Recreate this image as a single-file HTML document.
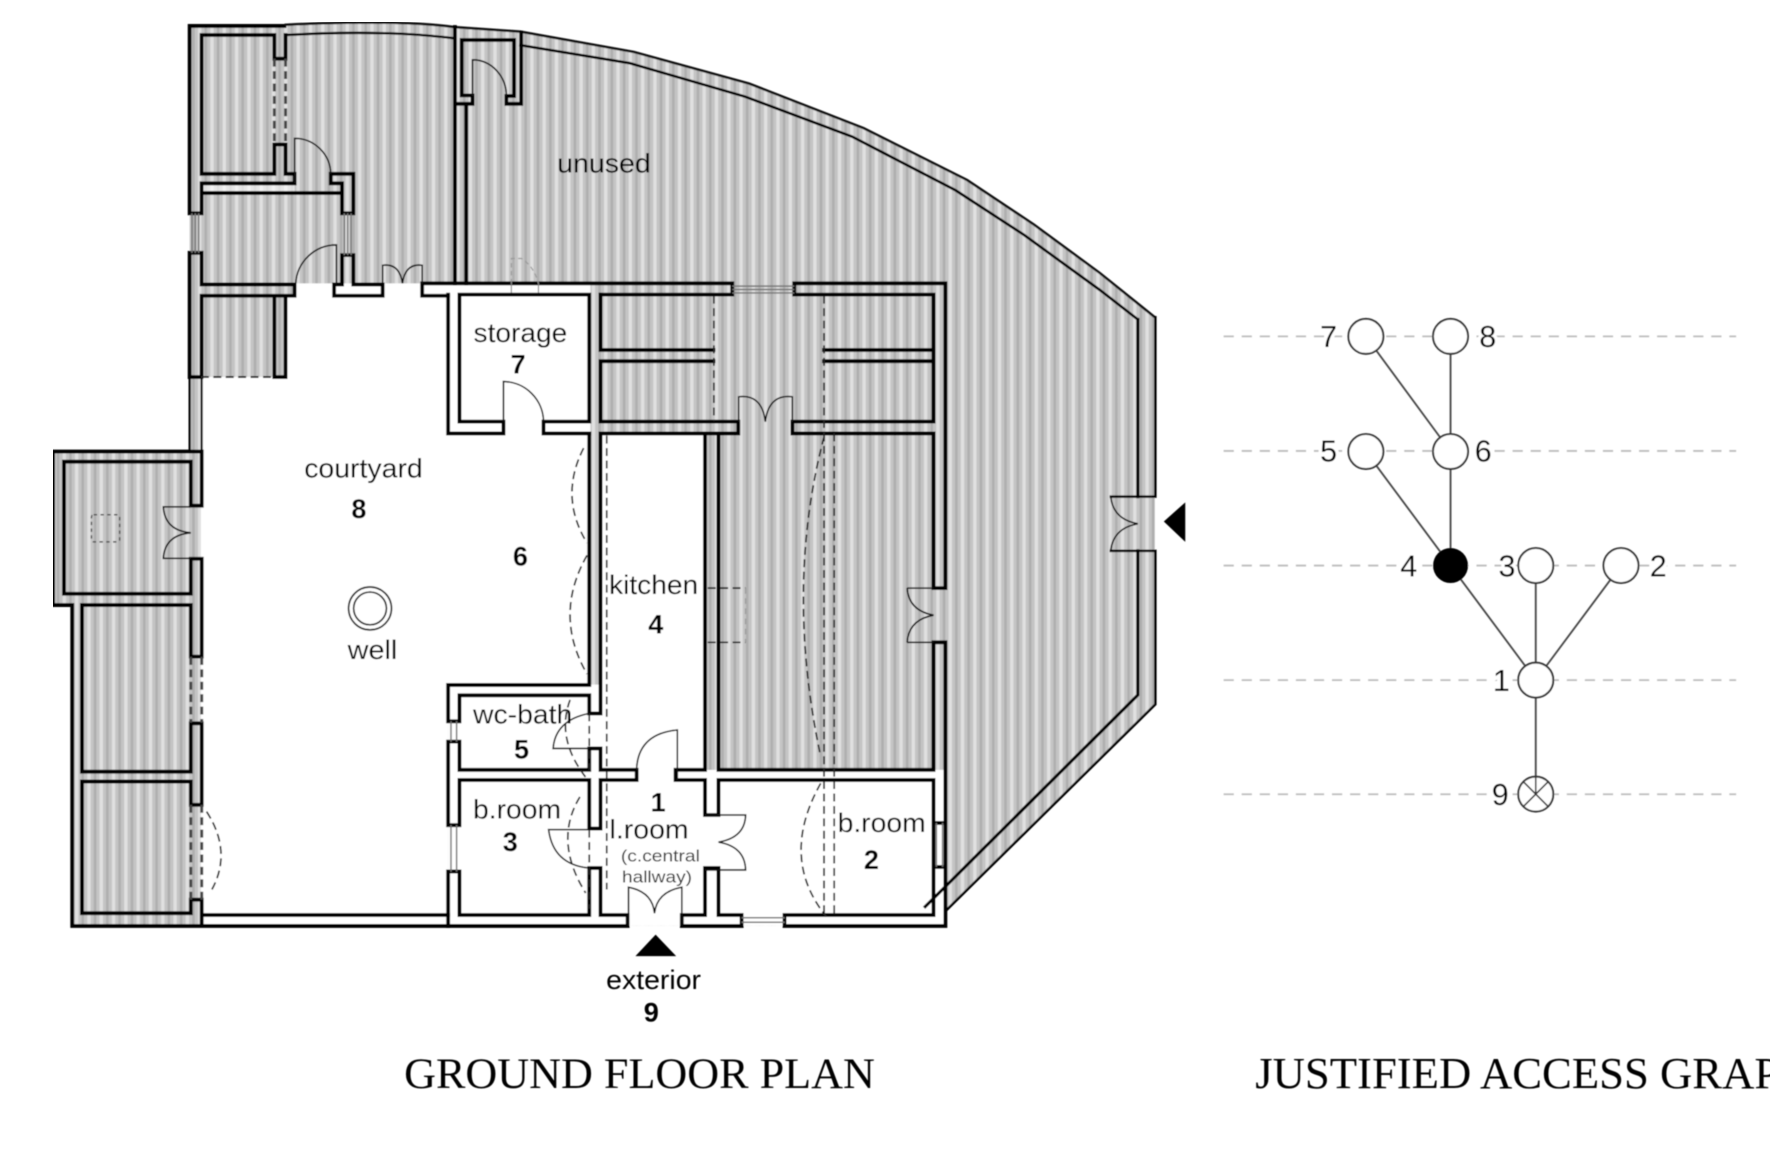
<!DOCTYPE html>
<html><head><meta charset="utf-8"><title>Ground floor plan</title>
<style>
html,body{margin:0;padding:0;background:#fff;width:1770px;height:1162px;overflow:hidden}
svg{display:block}
.w{fill:none;stroke:#000;stroke-width:3.4;stroke-linecap:square}
.t{fill:none;stroke:#111;stroke-width:1.4}
.d{fill:none;stroke:#222;stroke-width:1.5;stroke-dasharray:7 4}
.dw{fill:none;stroke:#444;stroke-width:2.6;stroke-dasharray:7 4}
.win{fill:none;stroke:#777;stroke-width:1.3}
text{font-family:"Liberation Sans",sans-serif;fill:#000}
.l{font-size:24px;text-anchor:middle}
.b{font-size:24px;font-weight:bold;text-anchor:middle}
.g{font-size:27px;text-anchor:middle;stroke:#fff;stroke-width:6px;paint-order:stroke}
.s{font-family:"Liberation Serif",serif;font-size:38px;fill:#000}
</style></head><body>
<svg xmlns="http://www.w3.org/2000/svg" width="1770" height="1162" viewBox="0 0 1568 1029.4">
<defs>
<pattern id="h" patternUnits="userSpaceOnUse" width="10.9" height="20">
<rect width="10.9" height="20" fill="#c4c4c4"/>
<rect x="1" width="3" height="20" fill="#e0e0e0"/>
<rect x="6.8" width="2.2" height="20" fill="#aeaeae"/>
</pattern>
<filter id="bl" x="0" y="0" width="100%" height="100%"><feGaussianBlur stdDeviation="0.45"/></filter>
</defs>
<rect width="1568" height="1030" fill="#fff"/>
<g filter="url(#bl)">
<!-- hatched building -->
<path fill="url(#h)" d="M168,23 L252,22 Q350,17 403,24 L461,28 L561.5,46 L663.6,74 L765,113.5 L856.8,159.5 L916,199 L974.5,242 L1023,281 L1023,624 L838,807 L838,820 L64,820 L64,536 L47,536 L47,400 L168,400 Z"/>
<!-- white spaces -->
<path fill="#fff" d="M261,251 L400,251 L400,384 L522,384 L522,606.5 L397,606.5 L397,811 L178,811 L178,334 L253,334 L253,262 L261,262 Z"/>
<path fill="#fff" d="M178,811 H400 V820 H178 Z"/>
<path fill="#fff" d="M374,251 H523 V384 H397 V262 H374 Z"/>
<path fill="#fff" d="M397,606.5 H532 V384 H624.6 V682 H838 V820 H397 Z"/>
<path fill="#fff" d="M296,252 H339 V262 H296 Z"/>
<path fill="#fff" d="M178.6,164 H261 V171 H178.6 Z" opacity=".6"/>

<!-- walls : upper-left block -->
<path class="w" d="M178.6,154 V31 H243 V52 H253 V31 M168,189 V23 H252
M243,128 H253 V154 H261 V162.4 H178.6 M243,128 V154 H178.6
M178.6,171 H303 M178.6,162.4 V189 H168
M293,162.4 V154 H313 V189 H303 V162.4 H293
M168,224 H178.6 V252 H261 V262 H178.6 V334 H168 V224
M243,262 V334 H253 V262
M303,226 H313 V252 H339 V262 H296 V252 H303 V226
M374,251 V262 H397 M374,251 H648.7 V261 H532"/>
<path class="w" style="stroke-width:2" d="M168,334 V400 M178.6,334 V400"/>
<path class="dw" d="M243,52 V128 M253,52 V128"/>
<path class="d" style="stroke-width:1.8" d="M178,334 H243"/>
<path class="t" d="M261,162 V122.6 A32,32 0 0 1 293,154"/>
<path class="t" d="M298,252 V217 A36,36 0 0 0 262,251"/>
<path class="t" d="M339,251 V235 Q354,233 356.5,251 Q359,233 374,235 V251"/>
<path class="win" d="M170,189 V224 M173,189 V224 M176,189 V224 M305,189 V226 M308,189 V226 M311,189 V226"/>

<!-- top curves -->
<path class="t" style="stroke-width:2.2" d="M252,22 Q350,17 403,24 L461,28 L561.5,46 L663.6,74 L765,113.5 L856.8,159.5 L916,199 L974.5,242 L1023,281"/>
<path class="w" style="stroke-width:2.2" d="M253,31 Q340,26 403,34"/>
<path class="w" style="stroke-width:2.4" d="M461,40 L558,56 L660,85.6 L754.8,121 L846.4,168.5 L907,208 L974.5,257 L1008,283"/>

<!-- central wall + closet -->
<path class="w" d="M403,24 V251 M413,92 V251 M403,92 H418.6 V84.5 H409 V35.4 H455.4 V85 H448.6 V92 H461.7 V29"/>
<path class="t" d="M418.6,85 V53 A30,32 0 0 1 448.6,85"/>
<path d="M453,251 V229 H462 Q473,236 477,251" fill="none" stroke="#999" stroke-width="1" stroke-dasharray="4 3"/>
<path d="M453,251 V261 M477,251 V261" fill="none" stroke="#888" stroke-width="1"/>

<!-- annex left -->
<path class="w" d="M178.7,400 H47 V536 H64 V820.3 H397 M56.7,409 H169 V448 H178.7 V400
M56.7,409 V526 H169 V495 H178.7 V581.7 H169 V536 H72.6 V683.6 H169 V640.8 H178.7 V713 H169 V692.4 H72.6 V809 H169 V797 H178.7 V820
M178.7,810.6 H397"/>
<path class="dw" d="M169,582 V640 M178.7,582 V640 M169,713 V797 M178.7,713 V797"/>
<path class="d" d="M183,719 Q207,756 186,791"/>
<rect x="81" y="456" width="25" height="24" fill="none" stroke="#555" stroke-width="1.3" stroke-dasharray="3 3" rx="2"/>
<path class="t" d="M169,449 H144.7 Q146,470 169,472 Q146,474 144.7,494.6 H169"/>
<circle cx="327.8" cy="539" r="19" fill="#fff" stroke="#222" stroke-width="1.5"/>
<circle cx="327.8" cy="539" r="14.5" fill="#fff" stroke="#222" stroke-width="1.5"/>

<!-- storage & top rooms -->
<path class="w" d="M397,261 V384 H446 V373.5 H407 V261 H522 V373.5 H481.5 V384 H522
M532,261 V310 H632 M532,320 V373.5 H654 V384 H532 M532,320 H632
M703.6,251 V261 H827 V310 H730 M730,320 H827 V373.5 H702 V384 H827 V521 H837.5 V251 H703.6
M827,320 V310"/>
<path class="win" d="M648.7,253.5 H703.6 M648.7,256.5 H703.6 M648.7,259.5 H703.6"/>
<path class="d" d="M632.4,262 V373 M730,262 V384"/>
<path class="t" d="M446,373.5 V338 A36,36 0 0 1 481.5,373.5"/>
<path class="t" d="M654.4,374 V351.5 Q675,349 678,373.5 Q681,349 701.9,351.5 V374"/>

<!-- kitchen, hall, right wall -->
<path class="w" d="M532,384 V632 H522 V616 H407 V639 H397 V606.8 H522 V384
M624.6,384 V682 M636.5,384 V682 H827 V569 H837.5 V820.3 H695 V810.6 H827 V768 H837.5 M827,810.6 V691 H636.5 V722 H624.6 V691 H598.5 V682 H624.6
M407,682 H522 V663 H532 V682 H564 V691 H532 V734 H522 V691 H407 V731 H397 V657 H407 V682
M397,772 H407 V810.6 H522 V769 H532 V810.6 H556 V820.3 H397 V772
M604,820.3 V810.6 H624.6 V769 H636.5 V810.6 H657 V820.3 H604
M827,729 H837.5"/>
<path class="win" d="M399.5,639 V657 M404.5,639 V657 M399.5,731 V772 M404.5,731 V772 M657,813 H695 M657,817 H695 M829.5,729 V768 M835,729 V768"/>
<path class="d" d="M537.5,386 V788 M522,735 V805 M522,632 V682"/>
<path class="d" d="M730,384 V812 M739,384 V812"/>
<path class="d" d="M730,387 Q695,520 727,670 M727,694 Q690,760 732,812"/>
<path class="d" d="M517,397 Q495,440 520,481 M520,492 Q490,545 520,597 M513.7,706 Q490,745 518.8,791 M505,620 Q492,655 520,690"/>
<path class="d" d="M627,521 H660.5 M627,569 H660.5"/>
<path d="M660.5,521 V569" fill="none" stroke="#999" stroke-width="1.1" stroke-dasharray="5 4"/>
<path class="t" d="M803.6,521 H827 M803.6,569 H827 M803.6,521 Q805,541 827,545 Q805,549 803.6,569"/>
<path class="t" d="M600,691 V646.7 Q565,650 563.9,682"/>
<path class="t" d="M522,663 H490 Q492,638 522,632"/>
<path class="t" d="M522,735 H486 Q490,766 522,769"/>
<path class="t" d="M624.6,722 H660.5 Q660,742 636.5,746 Q660,750 660.5,770.7 H624.6"/>
<path class="t" d="M556.8,820 V786 Q578,790 579.8,809 Q582,790 604,786 V820"/>

<!-- outer right wall -->
<path class="w" style="stroke-width:2.8" d="M1008,283 V440 M1008,488 V615.7 L819.6,803.2"/>
<path class="w" style="stroke-width:2.2" d="M1023.5,281 V440 H984 M1023.5,488 H984 M1023.5,488 V624 L838.7,806"/>
<path class="t" d="M984,440 Q986,460 1008,464 Q986,468 984,488"/>
<polygon points="1050,445 1050,480 1031,462" fill="#000"/>
<polygon points="562.9,847 599,847 580.8,828" fill="#000"/>

<!-- plan labels -->
<text class="l" x="322" y="423" textLength="105" lengthAdjust="spacingAndGlyphs">courtyard</text>
<text class="b" x="318" y="459">8</text>
<text class="b" x="461" y="501">6</text>
<text class="l" x="330" y="584" textLength="44" lengthAdjust="spacingAndGlyphs">well</text>
<text class="l" x="535" y="153" textLength="83" lengthAdjust="spacingAndGlyphs">unused</text>
<text class="l" x="461" y="303" textLength="83" lengthAdjust="spacingAndGlyphs">storage</text>
<text class="b" x="459" y="331">7</text>
<text class="l" x="579" y="526" textLength="79" lengthAdjust="spacingAndGlyphs">kitchen</text>
<text class="b" x="581" y="561">4</text>
<text class="l" x="463" y="641" textLength="88" lengthAdjust="spacingAndGlyphs">wc-bath</text>
<text class="b" x="462" y="672">5</text>
<text class="l" x="458" y="725" textLength="78" lengthAdjust="spacingAndGlyphs">b.room</text>
<text class="b" x="452" y="754">3</text>
<text class="b" x="583" y="719">1</text>
<text class="l" x="575" y="743" textLength="70" lengthAdjust="spacingAndGlyphs">l.room</text>
<text class="l" style="font-size:15px;fill:#333" x="585" y="763" textLength="70" lengthAdjust="spacingAndGlyphs">(c.central</text>
<text class="l" style="font-size:15px;fill:#333" x="582" y="782" textLength="62" lengthAdjust="spacingAndGlyphs">hallway)</text>
<text class="l" x="781" y="737" textLength="78" lengthAdjust="spacingAndGlyphs">b.room</text>
<text class="b" x="772" y="770">2</text>
<text class="l" x="579" y="876" textLength="84" lengthAdjust="spacingAndGlyphs">exterior</text>
<text class="b" x="577" y="905">9</text>
<text class="s" x="358" y="964" textLength="417" lengthAdjust="spacingAndGlyphs">GROUND FLOOR PLAN</text>
<text class="s" style="font-size:39.6px" x="1112" y="964">JUSTIFIED ACCESS GRAPH</text>

<!-- graph -->
<path d="M1084,298 H1538 M1084,399.5 H1538 M1084,501 H1538 M1084,602.5 H1538 M1084,703.6 H1538" fill="none" stroke="#bdbdbd" stroke-width="1.6" stroke-dasharray="9 7"/>
<path d="M1210,298 L1285,400 V501 L1360.5,602.5 V703.5 M1285,298 V400 M1210,400 L1285,501 M1360.5,501 V602.5 M1436,501 L1360.5,602.5" fill="none" stroke="#444" stroke-width="1.6"/>
<g fill="#fff" stroke="#333" stroke-width="1.7">
<circle cx="1210" cy="298" r="15.5"/><circle cx="1285" cy="298" r="15.5"/>
<circle cx="1210" cy="400" r="15.5"/><circle cx="1285" cy="400" r="15.5"/>
<circle cx="1360.5" cy="501" r="15.5"/><circle cx="1436" cy="501" r="15.5"/>
<circle cx="1360.5" cy="602.5" r="15.5"/>
<circle cx="1360.5" cy="703.5" r="15.5"/>
</g>
<circle cx="1285" cy="501" r="15.5" fill="#000"/>
<path d="M1349.5,692.5 L1371.5,714.5 M1371.5,692.5 L1349.5,714.5 M1360.5,688 V703.5" stroke="#333" stroke-width="1.4" fill="none"/>
<text class="g" x="1177" y="307.5">7</text>
<text class="g" x="1318" y="307.5">8</text>
<text class="g" x="1177" y="409">5</text>
<text class="g" x="1314" y="409">6</text>
<text class="g" x="1248" y="510.5">4</text>
<text class="g" x="1335" y="510.5">3</text>
<text class="g" x="1469" y="510.5">2</text>
<text class="g" x="1330" y="612">1</text>
<text class="g" x="1329" y="713">9</text>
</g>
</svg>
</body></html>
